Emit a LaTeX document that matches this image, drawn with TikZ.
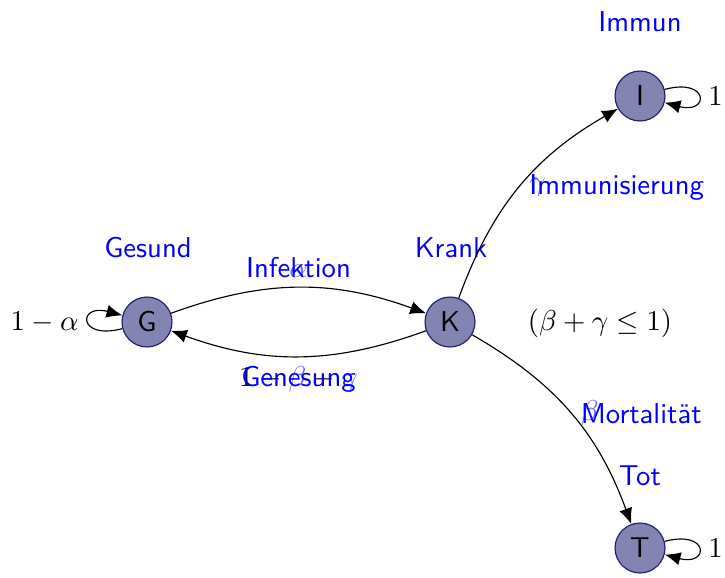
\documentclass[tikz,border=0pt]{standalone}
\usetikzlibrary{arrows.meta,positioning}
\definecolor{statefill}{RGB}{132,132,178}
\definecolor{stateborder}{RGB}{30,30,110}

\begin{document}
\begin{tikzpicture}[x=0.3484pt,y=-0.3484pt,
  state/.style={circle,draw=stateborder,fill=statefill,minimum size=17.4pt,inner sep=0pt,font=\sffamily},
  statelabel/.style={text=blue,font=\sffamily},
  trans/.style={-{Latex[length=5.5pt,width=4.6pt]},black},
  rate/.style={text=blue!60},
  every loop/.style={looseness=9}]
  \useasboundingbox (0,0) rectangle (725,577);
  % states
  \node[state] (G) at (147,322) {G};
  \node[state] (K) at (450,322) {K};
  \node[state] (I) at (640,96) {I};
  \node[state] (T) at (640,548) {T};
  % state names
  \node[statelabel] (Gname) at (148,248) {Gesund};
  \node[statelabel] (Kname) at (451,248) {Krank};
  \node[statelabel] (Iname) at (640,22) {Immun};
  \node[statelabel] (Tname) at (640,476) {Tot};
  % transitions
  \path[trans] (G) edge[bend left=20] node[above,rate] {$\alpha$} node[above,statelabel] {Infektion} (K);
  \path[trans] (K) edge[bend left=20] node[below] {$1-\textcolor{blue!60}{\beta}-\textcolor{blue!60}{\gamma}$} node[below,statelabel] {Genesung} (G);
  \path[trans] (K) edge[bend left=20] node[right,rate] {$\gamma$} node[right,statelabel] {Immunisierung} (I);
  \path[trans] (K) edge[bend left=20] node[right,rate] {$\beta$} node[right,statelabel] {Mortalit\"at} (T);
  \path[trans] (G) edge[loop left] node[left] {$1-\alpha$} (G);
  \path[trans] (I) edge[loop right] node[right] {$1$} (I);
  \path[trans] (T) edge[loop right] node[right] {$1$} (T);
  \node (cond) at (600,323) {$(\beta+\gamma\leq 1)$};
\end{tikzpicture}
\end{document}
